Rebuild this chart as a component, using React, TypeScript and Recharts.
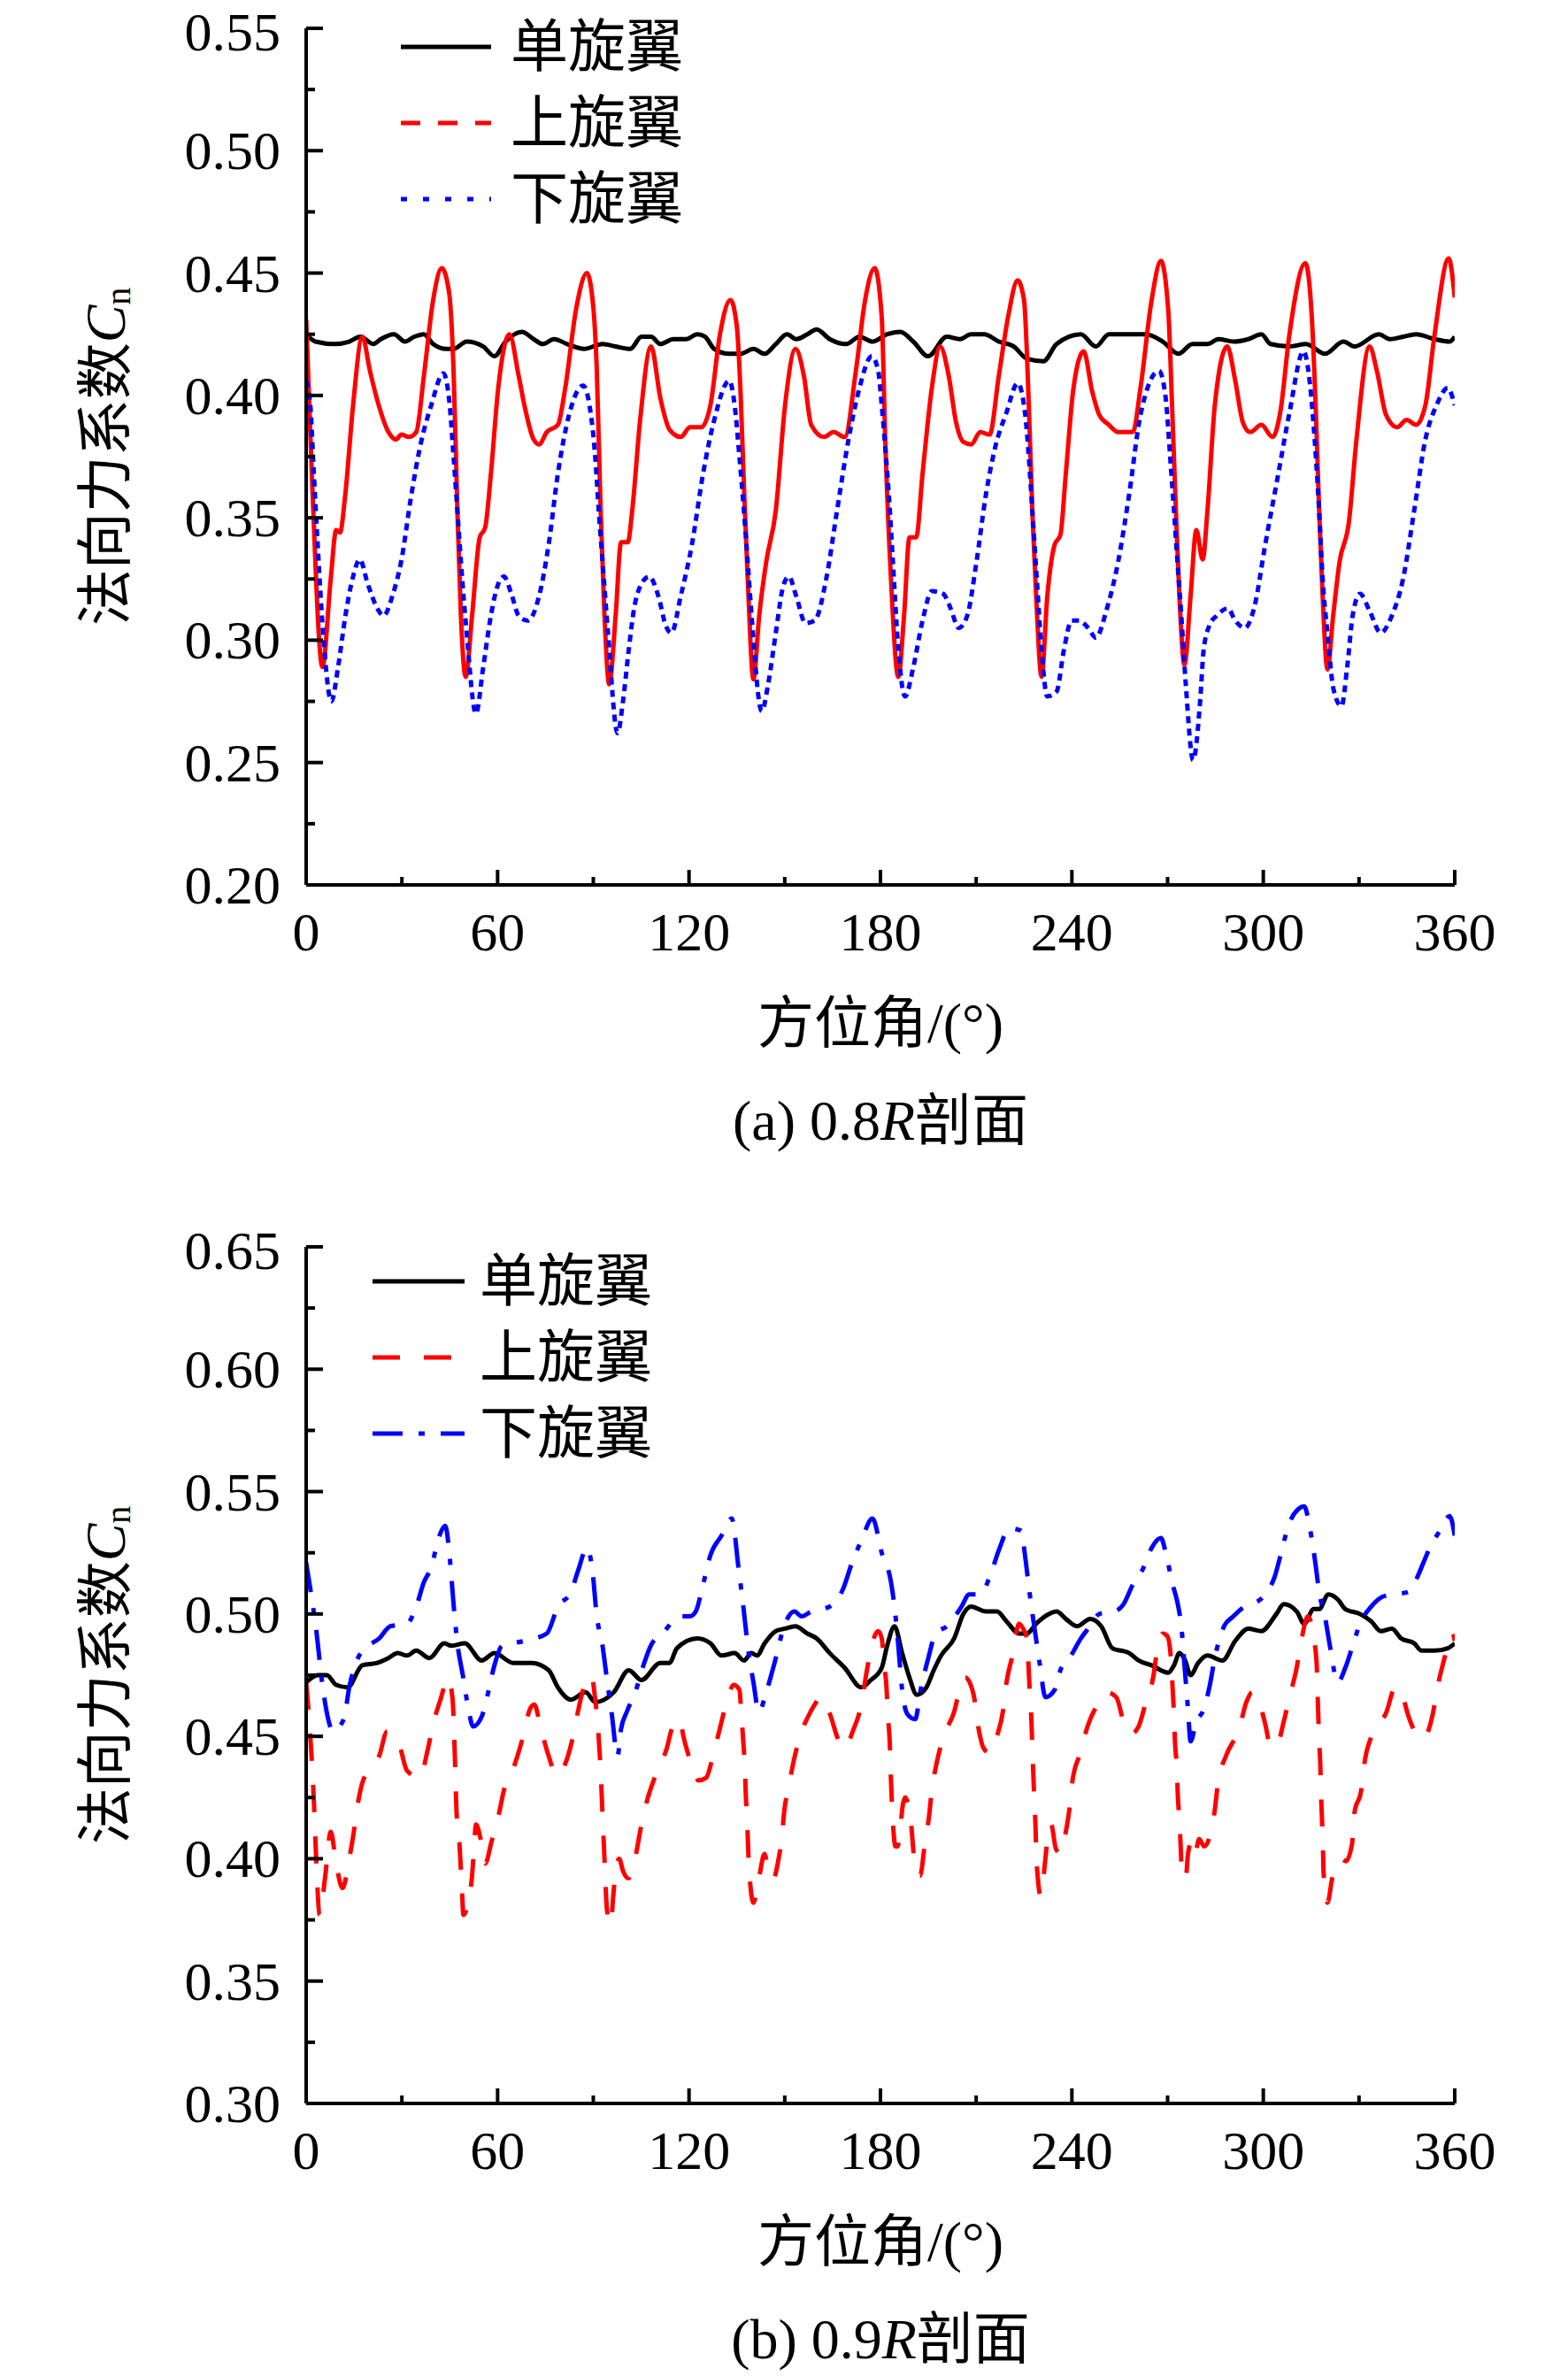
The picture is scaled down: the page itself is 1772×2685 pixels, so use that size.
import { LineChart, Line, XAxis, YAxis, Legend } from 'recharts';

// ---- (a) 0.8R section ----
const topAngleSingle = [0, 2.9, 8.8, 13.5, 17, 21.1, 23.4, 27.5, 31, 33.9, 36.9, 39.8, 43.9, 46.2, 50.3, 55.5, 59, 62.5, 67.6, 71.3, 74.2, 77.7, 81.8, 87.1, 92.9, 97, 101.6, 105.1, 108.1, 111, 115.1, 119.1, 122.6, 125, 127.9, 132.6, 136.1, 140.2, 143.7, 147.2, 150.7, 153.6, 157.1, 160, 164.1, 169.3, 173.4, 177.5, 182.1, 186.2, 190.3, 194.9, 200.8, 204.9, 208.4, 212.5, 217.1, 221.8, 225.9, 231.1, 235.2, 242.8, 247.5, 251.6, 258, 263.2, 268.5, 273.4, 277.8, 282.5, 286, 290.7, 295.3, 299.4, 302.3, 308.2, 313.4, 319.3, 325.1, 328.6, 336.2, 339.7, 343.8, 347.9, 353.7, 358.4, 360];
const topCnSingle = [0.425, 0.422, 0.421, 0.422, 0.424, 0.421, 0.423, 0.425, 0.422, 0.424, 0.425, 0.421, 0.419, 0.419, 0.422, 0.42, 0.416, 0.422, 0.426, 0.423, 0.421, 0.423, 0.421, 0.419, 0.421, 0.42, 0.419, 0.424, 0.424, 0.421, 0.423, 0.423, 0.425, 0.424, 0.419, 0.417, 0.417, 0.419, 0.417, 0.421, 0.425, 0.423, 0.425, 0.427, 0.423, 0.421, 0.424, 0.422, 0.425, 0.426, 0.422, 0.416, 0.424, 0.423, 0.425, 0.425, 0.422, 0.42, 0.415, 0.414, 0.421, 0.425, 0.42, 0.425, 0.425, 0.425, 0.422, 0.417, 0.421, 0.421, 0.423, 0.422, 0.423, 0.425, 0.421, 0.42, 0.421, 0.417, 0.422, 0.42, 0.425, 0.423, 0.424, 0.425, 0.423, 0.422, 0.424];

const topAngleUpper = [0, 1.8, 5.1, 7.7, 9.4, 10.6, 12.3, 14.7, 17.6, 20, 22.3, 25.8, 28.1, 29.9, 32.2, 34.5, 36.9, 39.8, 42.5, 44.8, 46.2, 47.4, 48.5, 50, 52, 54.4, 56.1, 57.9, 60.2, 63.7, 66.6, 68.4, 71.3, 73, 75.4, 78.9, 81.2, 84.7, 88, 90, 91.1, 92.3, 93.5, 95, 97, 98.7, 100.8, 102.2, 104.6, 108.1, 111, 113.9, 117.4, 120.3, 123.8, 126.7, 129.7, 133, 135, 136.1, 137.3, 138.4, 140.2, 142, 144.2, 147.2, 150.1, 153.4, 156, 158.3, 162.3, 165.3, 168.8, 172.3, 175.2, 178.2, 180.4, 181.5, 183.3, 185.6, 187.4, 189.1, 191.2, 193.2, 196.1, 198.7, 201.4, 203.7, 206, 208.4, 211.3, 214.2, 217.1, 220, 223, 225, 226.5, 227.6, 228.8, 230.5, 232.3, 234.6, 236.4, 238.1, 240.5, 243.7, 246.3, 248.6, 251.6, 254.5, 259.1, 261.5, 265, 267.9, 270.2, 271.4, 272.6, 273.7, 275.3, 277.2, 279, 281, 282.5, 284.8, 288.7, 291.2, 293.6, 295.9, 299.4, 302.9, 305.3, 308.2, 313.2, 315.2, 316.4, 317.5, 318.6, 320.1, 321.9, 323.9, 326.8, 329.2, 333.3, 335.6, 338.5, 342, 344.9, 347.9, 350.8, 353.7, 358.1, 360];
const topCnUpper = [0.431, 0.367, 0.289, 0.325, 0.345, 0.344, 0.36, 0.396, 0.424, 0.41, 0.398, 0.385, 0.382, 0.384, 0.383, 0.385, 0.408, 0.439, 0.452, 0.442, 0.41, 0.353, 0.31, 0.285, 0.31, 0.342, 0.346, 0.368, 0.403, 0.425, 0.408, 0.396, 0.382, 0.38, 0.385, 0.388, 0.403, 0.436, 0.45, 0.436, 0.41, 0.353, 0.31, 0.282, 0.31, 0.34, 0.34, 0.353, 0.389, 0.42, 0.399, 0.386, 0.383, 0.387, 0.387, 0.396, 0.425, 0.439, 0.428, 0.403, 0.36, 0.325, 0.284, 0.31, 0.332, 0.353, 0.396, 0.419, 0.408, 0.388, 0.383, 0.385, 0.383, 0.41, 0.439, 0.452, 0.432, 0.382, 0.325, 0.285, 0.31, 0.342, 0.342, 0.368, 0.403, 0.42, 0.408, 0.389, 0.381, 0.38, 0.385, 0.384, 0.408, 0.432, 0.447, 0.439, 0.396, 0.353, 0.318, 0.285, 0.318, 0.339, 0.343, 0.368, 0.403, 0.418, 0.402, 0.392, 0.388, 0.385, 0.385, 0.403, 0.439, 0.455, 0.435, 0.396, 0.353, 0.318, 0.29, 0.318, 0.345, 0.333, 0.353, 0.396, 0.42, 0.406, 0.389, 0.385, 0.388, 0.383, 0.393, 0.425, 0.454, 0.432, 0.396, 0.353, 0.318, 0.288, 0.31, 0.332, 0.348, 0.382, 0.42, 0.41, 0.392, 0.387, 0.39, 0.388, 0.396, 0.425, 0.456, 0.44];

const topAngleLower = [0, 1.3, 2.4, 3.6, 5.3, 7.9, 10, 12.3, 14.7, 16.8, 19.3, 22.3, 24.3, 27, 29.9, 32.8, 35.7, 39.2, 43, 45, 46.2, 47.4, 48.5, 50.3, 53.2, 55.5, 57.9, 60.2, 62, 64.3, 66.6, 69.5, 73, 76, 78.9, 82.4, 86.8, 88.8, 90.6, 91.7, 92.9, 94.6, 97.6, 99.3, 101.1, 102.8, 105.1, 107.5, 110.4, 112.7, 114.5, 117.4, 120.9, 124.4, 127.9, 132.6, 134.3, 135.8, 137.2, 138.4, 139.6, 142.8, 144.8, 147.2, 149.5, 151.3, 153.6, 156.5, 159.4, 163, 166.4, 170, 173.4, 177.3, 179.3, 180.4, 181.5, 182.7, 183.9, 185.4, 187.7, 190.3, 193.2, 196.1, 199.6, 202, 204.5, 207.2, 210.1, 213, 216, 219.5, 223, 225.3, 226.5, 227.6, 229, 230.5, 232.3, 235.2, 237.5, 239.9, 242.2, 245.1, 247.5, 251, 254.5, 258, 261.5, 267.3, 269.4, 270.8, 272, 273.1, 274.3, 275.7, 278, 280.2, 281.3, 283.1, 285.4, 288.9, 291.2, 294.2, 297.1, 300.6, 304.7, 308.2, 312.6, 314.6, 316.1, 317.5, 318.6, 320.1, 322, 324.5, 326.3, 328, 330.3, 333.3, 336.8, 340.3, 343.8, 347.3, 350.8, 354.3, 357.8, 360];
const topCnLower = [0.406, 0.396, 0.368, 0.339, 0.303, 0.275, 0.289, 0.31, 0.326, 0.333, 0.323, 0.313, 0.31, 0.318, 0.333, 0.358, 0.379, 0.396, 0.409, 0.396, 0.375, 0.353, 0.332, 0.303, 0.27, 0.289, 0.31, 0.323, 0.326, 0.319, 0.31, 0.308, 0.318, 0.339, 0.368, 0.392, 0.404, 0.396, 0.375, 0.353, 0.332, 0.303, 0.262, 0.275, 0.296, 0.313, 0.323, 0.326, 0.318, 0.306, 0.303, 0.318, 0.339, 0.368, 0.39, 0.406, 0.396, 0.375, 0.353, 0.332, 0.31, 0.271, 0.282, 0.303, 0.322, 0.326, 0.318, 0.307, 0.308, 0.325, 0.353, 0.382, 0.403, 0.416, 0.41, 0.396, 0.379, 0.358, 0.332, 0.3, 0.277, 0.289, 0.308, 0.32, 0.319, 0.313, 0.305, 0.31, 0.332, 0.359, 0.379, 0.393, 0.405, 0.393, 0.375, 0.353, 0.325, 0.296, 0.277, 0.279, 0.296, 0.308, 0.308, 0.305, 0.301, 0.313, 0.332, 0.36, 0.392, 0.41, 0.399, 0.375, 0.353, 0.332, 0.31, 0.282, 0.251, 0.275, 0.296, 0.306, 0.31, 0.313, 0.308, 0.305, 0.313, 0.339, 0.368, 0.393, 0.418, 0.405, 0.382, 0.353, 0.325, 0.303, 0.28, 0.273, 0.289, 0.31, 0.319, 0.312, 0.303, 0.31, 0.325, 0.353, 0.382, 0.396, 0.403, 0.396];

// ---- (b) 0.9R section ----
const botAngleSingle = [0, 3.6, 6.5, 9.4, 13, 17.6, 22.3, 25.8, 28.7, 31.6, 34.5, 38.6, 43.3, 45.6, 49.7, 55, 59, 64.9, 70.7, 76, 78.9, 83, 87.6, 90.6, 96.4, 101.1, 105.1, 111, 113.9, 116.2, 122.6, 126.7, 130.2, 134.3, 137.2, 139.6, 141.3, 143.7, 147.2, 150.1, 153.3, 157.1, 160, 164.1, 168.8, 174, 177, 180.4, 182.1, 184.4, 186.8, 189.1, 191.4, 194.4, 196.7, 199, 203.1, 206, 208.4, 213, 216.5, 219.5, 223.5, 225.9, 228.8, 232.9, 235.2, 238.1, 241.6, 245.7, 249.2, 252.7, 258, 260.9, 265, 270.2, 272, 273.7, 275.5, 277.2, 279.6, 282.5, 287.2, 291.2, 295.3, 299.4, 304.1, 306.4, 310.5, 312.8, 315.8, 317.5, 320.4, 323.3, 325.7, 330.3, 333.8, 336.8, 340.3, 343.2, 347.3, 349.6, 353.7, 357.8, 360];
const botCnSingle = [0.472, 0.475, 0.475, 0.471, 0.47, 0.479, 0.48, 0.482, 0.484, 0.483, 0.485, 0.482, 0.488, 0.487, 0.488, 0.481, 0.484, 0.48, 0.48, 0.477, 0.47, 0.465, 0.468, 0.464, 0.468, 0.477, 0.473, 0.48, 0.48, 0.486, 0.49, 0.488, 0.483, 0.484, 0.481, 0.484, 0.483, 0.488, 0.493, 0.494, 0.495, 0.492, 0.49, 0.484, 0.478, 0.47, 0.473, 0.478, 0.487, 0.495, 0.484, 0.474, 0.467, 0.47, 0.477, 0.483, 0.49, 0.5, 0.503, 0.501, 0.501, 0.497, 0.492, 0.492, 0.496, 0.5, 0.501, 0.498, 0.495, 0.498, 0.495, 0.486, 0.484, 0.481, 0.479, 0.476, 0.479, 0.484, 0.481, 0.475, 0.48, 0.483, 0.481, 0.489, 0.494, 0.493, 0.5, 0.504, 0.501, 0.496, 0.502, 0.502, 0.508, 0.506, 0.502, 0.5, 0.497, 0.493, 0.494, 0.49, 0.488, 0.485, 0.485, 0.486, 0.488];

const botAngleUpper = [0, 1.3, 2.4, 3.2, 4.2, 5.9, 7.7, 9.4, 11.4, 13.5, 14.7, 16.4, 17.6, 22.9, 25.4, 29.3, 31.6, 35.7, 38, 39.8, 42.1, 44.5, 45.9, 46.6, 47.1, 48.1, 48.8, 49.3, 50.9, 52, 52.6, 53.2, 54.7, 56.1, 58.1, 60.2, 62, 65.5, 68, 70.1, 71.5, 73.6, 76, 78.5, 80.6, 83.3, 85, 86.8, 89.4, 90.6, 91.5, 92, 92.5, 92.9, 93.5, 94.3, 95.5, 96.2, 97, 98.1, 99.3, 101, 103.4, 104.8, 106.9, 109.2, 113, 115.1, 116.8, 118.6, 120.9, 123, 125.3, 127.7, 130, 132, 134, 135.8, 136.4, 137, 137.5, 137.8, 138.2, 138.7, 139.3, 140.2, 141.9, 143.7, 145.2, 146.5, 147.8, 149, 149.9, 151.3, 153, 155, 157.3, 159.4, 161.2, 163.9, 167, 168.8, 171.3, 174, 175.5, 176.9, 179.3, 180.4, 181.2, 181.9, 182.3, 182.9, 183.3, 183.9, 184.7, 185.4, 186.2, 187, 187.8, 188.5, 189.7, 190.5, 192.4, 194, 195.2, 196.1, 197.6, 199.8, 203.1, 205.4, 206.6, 209.2, 210.5, 212.4, 214.5, 216.5, 218.5, 219.5, 221.2, 223.5, 224.7, 225.9, 226.4, 226.8, 227.3, 227.6, 227.9, 228.2, 228.6, 228.8, 229.4, 230.2, 231.7, 232.5, 233.5, 235, 236.5, 238.1, 239.3, 240.2, 242.6, 244.9, 248.6, 251, 253.9, 256.2, 258.5, 260.9, 263.2, 265.6, 266.7, 268.5, 269.9, 271.1, 271.6, 272, 272.3, 272.9, 273.2, 273.7, 274.1, 274.5, 275.7, 276.4, 277.8, 278.7, 279.9, 281.5, 283.4, 284.8, 285.8, 288.3, 292.4, 294.7, 296.5, 298.2, 300.6, 302.3, 304.1, 306.4, 308.4, 310.3, 311.9, 314, 315.8, 316.7, 317.1, 317.5, 317.9, 318.1, 318.4, 318.7, 318.9, 320.1, 321.6, 323, 324.3, 325.9, 327.8, 328.6, 330.7, 331.7, 333.9, 336, 338.3, 341.4, 343.3, 345.3, 347.9, 350, 353.1, 354.6, 356.6, 359.3, 360];
const botCnUpper = [0.472, 0.45, 0.424, 0.398, 0.377, 0.392, 0.411, 0.398, 0.388, 0.4, 0.409, 0.424, 0.431, 0.442, 0.452, 0.446, 0.436, 0.433, 0.444, 0.455, 0.465, 0.474, 0.465, 0.442, 0.42, 0.405, 0.388, 0.377, 0.383, 0.393, 0.404, 0.414, 0.408, 0.398, 0.407, 0.417, 0.428, 0.439, 0.45, 0.461, 0.463, 0.453, 0.442, 0.434, 0.437, 0.448, 0.459, 0.469, 0.475, 0.465, 0.453, 0.443, 0.43, 0.418, 0.4, 0.379, 0.373, 0.384, 0.395, 0.4, 0.395, 0.392, 0.402, 0.412, 0.424, 0.433, 0.445, 0.455, 0.457, 0.448, 0.438, 0.432, 0.433, 0.443, 0.455, 0.465, 0.471, 0.469, 0.459, 0.448, 0.437, 0.426, 0.416, 0.399, 0.388, 0.382, 0.392, 0.402, 0.393, 0.392, 0.398, 0.408, 0.42, 0.43, 0.441, 0.451, 0.458, 0.463, 0.466, 0.46, 0.448, 0.445, 0.452, 0.463, 0.475, 0.485, 0.493, 0.49, 0.479, 0.47, 0.459, 0.448, 0.432, 0.415, 0.405, 0.405, 0.412, 0.422, 0.425, 0.423, 0.413, 0.401, 0.393, 0.407, 0.417, 0.428, 0.439, 0.45, 0.46, 0.472, 0.474, 0.467, 0.455, 0.445, 0.443, 0.45, 0.461, 0.472, 0.482, 0.496, 0.494, 0.49, 0.479, 0.468, 0.457, 0.446, 0.435, 0.425, 0.413, 0.404, 0.391, 0.385, 0.4, 0.41, 0.414, 0.404, 0.402, 0.411, 0.421, 0.432, 0.443, 0.454, 0.464, 0.468, 0.466, 0.456, 0.451, 0.454, 0.464, 0.475, 0.485, 0.492, 0.491, 0.481, 0.469, 0.459, 0.448, 0.437, 0.426, 0.416, 0.405, 0.394, 0.392, 0.402, 0.408, 0.403, 0.408, 0.405, 0.41, 0.42, 0.431, 0.442, 0.453, 0.464, 0.468, 0.466, 0.455, 0.446, 0.446, 0.456, 0.467, 0.477, 0.489, 0.499, 0.49, 0.48, 0.464, 0.448, 0.437, 0.426, 0.416, 0.404, 0.394, 0.382, 0.392, 0.398, 0.4, 0.399, 0.406, 0.419, 0.428, 0.439, 0.45, 0.455, 0.459, 0.47, 0.468, 0.459, 0.451, 0.449, 0.459, 0.47, 0.481, 0.492, 0.489];

const botAngleLower = [0, 1.8, 3, 5.3, 7.1, 8.3, 11.8, 13.5, 15.3, 17.6, 22.9, 26.4, 31.6, 34.5, 36.9, 39.2, 41.5, 43.6, 45, 46.2, 47.4, 49.1, 50.9, 52.3, 55, 56.7, 59, 61.4, 68.4, 75.4, 78.9, 83, 85.3, 88, 89.7, 91.1, 92.9, 94.1, 95.8, 97.6, 98.7, 100.5, 103.4, 105.7, 108, 111.6, 117.4, 120.3, 122.1, 124.4, 126.7, 130.2, 133.4, 135.5, 137.2, 138.4, 140.2, 141.9, 144.2, 146.6, 150.1, 153, 155.3, 158.3, 164.1, 168.2, 171.1, 174, 177.5, 180.4, 183.3, 184.4, 185.6, 186.8, 188.5, 190.9, 192.6, 195, 197.3, 200.8, 205.4, 207.8, 211.3, 214.2, 217.1, 220.4, 224.1, 225.3, 226.7, 228.2, 230, 231.7, 234.6, 236.4, 239.3, 242.8, 245.1, 248.6, 253.3, 256.2, 259.1, 262.1, 265, 267.9, 269.6, 271.4, 273.2, 274.3, 275.3, 276.4, 277.2, 279, 281.3, 283.1, 284.8, 287.7, 290.6, 294.2, 296.5, 300.6, 303.5, 305.8, 307.6, 311.1, 312.8, 314.6, 316.3, 317.5, 319.3, 321, 323.3, 325.7, 328, 330.3, 333.8, 337.3, 340.9, 345.5, 347.9, 350.2, 352.5, 355.4, 358.4, 360];
const botCnLower = [0.521, 0.506, 0.495, 0.469, 0.456, 0.452, 0.457, 0.47, 0.479, 0.485, 0.49, 0.495, 0.496, 0.503, 0.513, 0.519, 0.531, 0.536, 0.523, 0.504, 0.488, 0.475, 0.461, 0.454, 0.458, 0.466, 0.479, 0.487, 0.489, 0.492, 0.503, 0.509, 0.518, 0.527, 0.518, 0.499, 0.487, 0.475, 0.459, 0.442, 0.453, 0.46, 0.469, 0.479, 0.487, 0.492, 0.499, 0.499, 0.501, 0.512, 0.524, 0.532, 0.539, 0.519, 0.501, 0.487, 0.472, 0.46, 0.468, 0.479, 0.496, 0.501, 0.499, 0.501, 0.503, 0.51, 0.521, 0.53, 0.539, 0.525, 0.513, 0.503, 0.487, 0.469, 0.459, 0.457, 0.469, 0.482, 0.492, 0.495, 0.503, 0.508, 0.508, 0.515, 0.526, 0.535, 0.534, 0.524, 0.509, 0.495, 0.479, 0.466, 0.469, 0.477, 0.482, 0.49, 0.494, 0.5, 0.501, 0.504, 0.512, 0.518, 0.527, 0.531, 0.524, 0.513, 0.504, 0.495, 0.479, 0.461, 0.448, 0.456, 0.461, 0.47, 0.482, 0.495, 0.499, 0.503, 0.504, 0.508, 0.515, 0.526, 0.535, 0.543, 0.544, 0.535, 0.521, 0.509, 0.499, 0.486, 0.472, 0.478, 0.487, 0.496, 0.503, 0.507, 0.508, 0.509, 0.514, 0.521, 0.528, 0.534, 0.54, 0.532];

const xTicks = [0, 30, 60, 90, 120, 150, 180, 210, 240, 270, 300, 330, 360];
const topYTicks = [0.2, 0.225, 0.25, 0.275, 0.3, 0.325, 0.35, 0.375, 0.4, 0.425, 0.45, 0.475, 0.5, 0.525, 0.55];
const botYTicks = [0.3, 0.325, 0.35, 0.375, 0.4, 0.425, 0.45, 0.475, 0.5, 0.525, 0.55, 0.575, 0.6, 0.625, 0.65];
const seriesNames = ['单旋翼', '上旋翼', '下旋翼'];

const SERIF = "'Liberation Serif', 'Times New Roman', serif";
const MIXED = "'Liberation Serif', 'Noto Sans CJK SC', serif";

const zip = (a: number[], v: number[]) => a.map((angle, i) => ({ angle, cn: v[i] }));

type Series = { name: string; data: { angle: number; cn: number }[]; stroke: string; dash?: string; legendDash?: string };

function XTick(props: any) {
  const { x, y, payload } = props;
  const major = payload.value % 60 === 0;
  return (
    <g>
      <line x1={x} x2={x} y1={y} y2={y - (major ? 17 : 9)} stroke="#000" strokeWidth={4} />
      {major && (
        <text x={x} y={y + 53} textAnchor="middle" dominantBaseline="central" fontSize={62} fontFamily={SERIF} fill="#000">
          {payload.value}
        </text>
      )}
    </g>
  );
}

function YTick(props: any) {
  const { x, y, payload } = props;
  const v = payload.value;
  const major = Math.abs(v * 20 - Math.round(v * 20)) < 1e-6;
  // the top label sits right at the page edge; keep its text box inside
  const ty = Math.max(y, 56);
  return (
    <g>
      <line x1={x} x2={x + (major ? 19 : 10)} y1={y} y2={y} stroke="#000" strokeWidth={4} />
      {major && (
        <text x={x - 29} y={ty} textAnchor="end" dominantBaseline="central" fontSize={62} fontFamily={SERIF} fill="#000">
          {v.toFixed(2)}
        </text>
      )}
    </g>
  );
}

const yTitle = (props: any) => {
  const vb = props.viewBox;
  const cx = vb.x - 107;
  const cy = vb.y + vb.height / 2;
  return (
    <text x={cx} y={cy} transform={`rotate(-90 ${cx} ${cy})`} textAnchor="middle" dominantBaseline="central" fontSize={64} fontFamily={MIXED} fill="#000">
      法向力系数<tspan fontStyle="italic" fontFamily={SERIF}>C</tspan>
      <tspan fontSize={40} dy={14} fontFamily={SERIF}>n</tspan>
    </text>
  );
};

const xTitle = (props: any) => {
  const vb = props.viewBox;
  return (
    <text x={vb.x + vb.width / 2} y={vb.y + 156} textAnchor="middle" dominantBaseline="central" fontSize={64} fontFamily={MIXED} fill="#000">
      方位角/(°)
    </text>
  );
};

// legend rows follow the series order, not whatever order recharts hands back
function makeLegend(styles: Series[], lineWidth: number, gap: number) {
  return (props: any) => {
    const items = [...(props.payload || [])].sort(
      (a: any, b: any) => seriesNames.indexOf(a.value) - seriesNames.indexOf(b.value)
    );
    return (
      <div>
        {items.map((entry: any) => {
          const s = styles.find((st) => st.name === entry.value)!;
          return (
            <div key={entry.value} style={{ display: 'flex', alignItems: 'center', height: 86 }}>
              <svg width={lineWidth} height={12} style={{ display: 'block' }}>
                <line x1={0} x2={lineWidth} y1={6} y2={6} stroke={s.stroke} strokeWidth={5} strokeDasharray={s.legendDash} />
              </svg>
              <span style={{ marginLeft: gap, fontSize: 65, lineHeight: '65px', fontFamily: MIXED, color: '#000' }}>{entry.value}</span>
            </div>
          );
        })}
      </div>
    );
  };
}

function Panel(props: {
  top: number;
  domain: [number, number];
  yTicks: number[];
  series: Series[];
  legendLeft: number;
  legendTop: number;
  legendLine: number;
  legendGap: number;
  caption: any;
}) {
  const { top, domain, yTicks, series } = props;
  return (
    <div style={{ position: 'absolute', left: 0, top, width: 1772, height: 1330 }}>
      <LineChart width={1772} height={1220} margin={{ top: 52, right: 128, left: 226, bottom: 0 }}>
        <XAxis
          type="number"
          dataKey="angle"
          domain={[0, 360]}
          ticks={xTicks}
          interval={0}
          height={200}
          tickSize={0}
          tickMargin={0}
          tickLine={false}
          tick={<XTick />}
          axisLine={{ stroke: '#000', strokeWidth: 4 }}
          allowDataOverflow
          label={xTitle}
        />
        <YAxis
          type="number"
          domain={domain}
          ticks={yTicks}
          interval={0}
          width={120}
          tickSize={0}
          tickMargin={0}
          tickLine={false}
          tick={<YTick />}
          axisLine={{ stroke: '#000', strokeWidth: 4 }}
          allowDataOverflow
          label={yTitle}
        />
        <Legend
          layout="vertical"
          align="center"
          verticalAlign="middle"
          content={makeLegend(series, props.legendLine, props.legendGap)}
          wrapperStyle={{ left: props.legendLeft, top: props.legendTop, width: 'auto', height: 'auto' }}
        />
        {series.map((s) => (
          <Line
            key={s.name}
            name={s.name}
            data={s.data}
            dataKey="cn"
            type="monotone"
            stroke={s.stroke}
            strokeWidth={5}
            strokeDasharray={s.dash}
            strokeLinejoin="round"
            dot={false}
            activeDot={false}
            isAnimationActive={false}
          />
        ))}
      </LineChart>
      <div
        style={{
          position: 'absolute',
          left: 346,
          width: 1298,
          top: 1247,
          height: 80,
          lineHeight: '80px',
          textAlign: 'center',
          fontSize: 64,
          fontFamily: MIXED,
          color: '#000',
        }}
      >
        {props.caption}
      </div>
    </div>
  );
}

export default function App() {
  const topSeries: Series[] = [
    { name: seriesNames[0], data: zip(topAngleSingle, topCnSingle), stroke: '#000000' },
    { name: seriesNames[1], data: zip(topAngleUpper, topCnUpper), stroke: '#ff0000', legendDash: '22 20' },
    { name: seriesNames[2], data: zip(topAngleLower, topCnLower), stroke: '#0000ff', dash: '8 6', legendDash: '7 18' },
  ];
  const botSeries: Series[] = [
    { name: seriesNames[0], data: zip(botAngleSingle, botCnSingle), stroke: '#000000' },
    { name: seriesNames[1], data: zip(botAngleUpper, botCnUpper), stroke: '#ff0000', dash: '31 27', legendDash: '31 27' },
    { name: seriesNames[2], data: zip(botAngleLower, botCnLower), stroke: '#0000ff', dash: '34 18 7 18', legendDash: '34 18 7 18' },
  ];
  return (
    <div style={{ position: 'absolute', left: 0, top: 0, width: 1772, height: 2685, background: '#fff', overflow: 'hidden' }}>
      <Panel
        top={-20}
        domain={[0.2, 0.55]}
        yTicks={topYTicks}
        series={topSeries}
        legendLeft={453}
        legendTop={30}
        legendLine={102}
        legendGap={22}
        caption={<>(a) 0.8<i>R</i>剖面</>}
      />
      <Panel
        top={1357}
        domain={[0.3, 0.65]}
        yTicks={botYTicks}
        series={botSeries}
        legendLeft={421}
        legendTop={48}
        legendLine={104}
        legendGap={17}
        caption={<>(b) 0.9<i>R</i>剖面</>}
      />
    </div>
  );
}
